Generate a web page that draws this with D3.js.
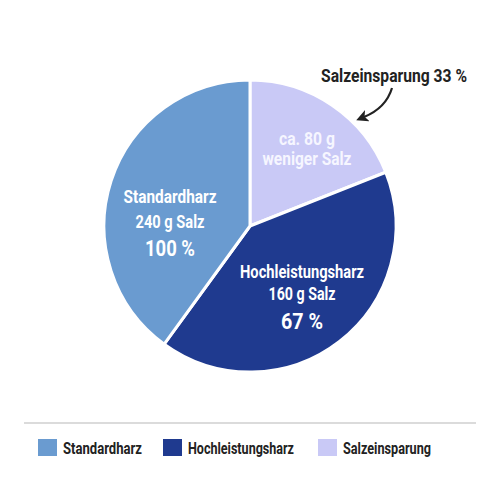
<!DOCTYPE html>
<html>
<head>
<meta charset="utf-8">
<script src="https://cdn.jsdelivr.net/npm/d3@7"></script>
<style>
  html, body { margin: 0; padding: 0; background: #fff; }
  svg text { font-family: Roboto, "Open Sans", sans-serif; font-weight: bold; }
</style>
</head>
<body>
<svg id="chart" width="500" height="500"></svg>
<script>
// Categories in legend order
const categories = ['Standardharz', 'Hochleistungsharz', 'Salzeinsparung'];
const saltGrams = [240, 160, 80];
const percents = [100, 67, 33];
// slice shares as drawn in the graphic (not proportional to the grams)
const sliceShares = [40, 41, 19];
// clockwise order from 12 o'clock
const drawOrder = [2, 1, 0];
const colors = ['#6a9bd0', '#1f3a8f', '#c9c9f6'];

const svg = d3.select('#chart');
const cx = 250, cy = 226, radius = 146;

// the original uses a condensed face, so squeeze text to its measured width
const fit = (sel, w) => sel.attr('textLength', w).attr('lengthAdjust', 'spacingAndGlyphs');

const pie = d3.pie()
  .sort(null)
  .value(i => sliceShares[i]);

const arc = d3.arc()
  .innerRadius(0)
  .outerRadius(radius);

const arcs = pie(drawOrder);

const pieGroup = svg.append('g')
  .attr('transform', `translate(${cx},${cy})`);

pieGroup.selectAll('path')
  .data(arcs)
  .join('path')
  .attr('d', arc)
  .attr('fill', d => colors[d.data])
  .attr('stroke', '#fff')
  .attr('stroke-width', 3)
  .attr('stroke-linejoin', 'round');

// slice labels: [x, first baseline] relative to the pie centre, then text widths
const labelPos = {
  0: { x: -80, y: -23, w: [93, 69, 50] },
  1: { x: 52, y: 52, w: [124, 67, 42] },
  2: { x: 57, y: -81, w: [56, 89] }
};

arcs.forEach(d => {
  const i = d.data;
  const p = labelPos[i];
  const g = pieGroup.append('g')
    .attr('transform', `translate(${p.x},${p.y})`)
    .attr('fill', i === 2 ? '#f6f6ff' : '#fff')
    .attr('text-anchor', 'middle');
  if (i === 2) {
    fit(g.append('text').attr('y', 0).attr('font-size', 18).text(`ca. ${saltGrams[i]} g`), p.w[0]);
    fit(g.append('text').attr('y', 20).attr('font-size', 18).text('weniger Salz'), p.w[1]);
  } else {
    const gap = i === 0 ? [24.5, 53] : [22, 50.5];
    fit(g.append('text').attr('y', 0).attr('font-size', 18.5).text(categories[i]), p.w[0]);
    fit(g.append('text').attr('y', gap[0]).attr('font-size', 18).text(`${saltGrams[i]} g Salz`), p.w[1]);
    fit(g.append('text').attr('y', gap[1]).attr('font-size', 22).text(`${percents[i]} %`), p.w[2]);
  }
});

// annotation with arrow for the saving
fit(svg.append('text')
  .attr('x', 394)
  .attr('y', 82)
  .attr('text-anchor', 'middle')
  .attr('font-size', 18)
  .attr('fill', '#222')
  .text(`${categories[2]} ${percents[2]} %`), 146);

svg.append('defs').append('marker')
  .attr('id', 'head')
  .attr('viewBox', '0 0 10 10')
  .attr('refX', 3)
  .attr('refY', 5)
  .attr('markerUnits', 'userSpaceOnUse')
  .attr('markerWidth', 12)
  .attr('markerHeight', 12)
  .attr('orient', 'auto')
  .append('path')
  .attr('d', 'M0,0L10,5L0,10L2.5,5Z')
  .attr('fill', '#222');

const ap = d3.path();
ap.moveTo(392, 88);
ap.quadraticCurveTo(386, 108, 364, 117);
svg.append('path')
  .attr('d', ap.toString())
  .attr('fill', 'none')
  .attr('stroke', '#222')
  .attr('stroke-width', 2.2)
  .attr('marker-end', 'url(#head)');

// legend
svg.append('line')
  .attr('x1', 24).attr('x2', 476)
  .attr('y1', 423).attr('y2', 423)
  .attr('stroke', '#cfcfcf')
  .attr('stroke-width', 1.5);

const legendX = [38, 163, 318];
const legendW = [79, 106, 88];
const legend = svg.append('g').selectAll('g')
  .data(categories)
  .join('g')
  .attr('transform', (d, i) => `translate(${legendX[i]},439)`);

legend.append('rect')
  .attr('width', 19)
  .attr('height', 17)
  .attr('fill', (d, i) => colors[i]);

legend.append('text')
  .attr('x', 25)
  .attr('y', 14.5)
  .attr('font-size', 17)
  .attr('fill', '#222')
  .attr('textLength', (d, i) => legendW[i])
  .attr('lengthAdjust', 'spacingAndGlyphs')
  .text(d => d);
</script>
</body>
</html>
